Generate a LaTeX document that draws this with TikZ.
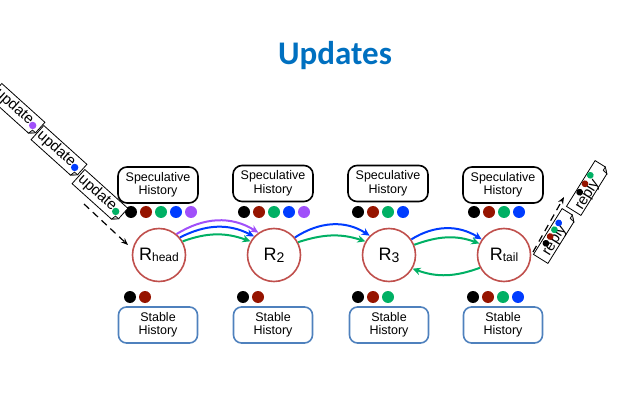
\documentclass[tikz,border=0pt]{standalone}
\usepackage{fontspec}
\setmainfont{Liberation Sans}
\newfontfamily\titlefont{Carlito}
\usetikzlibrary{arrows.meta}

\definecolor{titleblue}{RGB}{0,112,192}
\definecolor{ringred}{RGB}{192,80,77}
\definecolor{stableblue}{RGB}{79,129,189}
\definecolor{opblack}{RGB}{0,0,0}
\definecolor{opred}{RGB}{150,20,0}
\definecolor{opgreen}{RGB}{0,176,100}
\definecolor{opblue}{RGB}{0,60,255}
\definecolor{oppurple}{RGB}{160,80,250}
\definecolor{foldgray}{RGB}{200,200,200}

% replica label: big R with a lowered, smaller suffix
\newcommand\replabel[3]{\fontsize{18}{18}\selectfont R\raisebox{-#3}{\fontsize{#2}{#2}\selectfont #1}}

\begin{document}
\begin{tikzpicture}[x=1pt,y=1pt,
  replica/.style={circle, draw=ringred, line width=1.6pt, fill=white,
    minimum size=53pt, inner sep=0pt},
  spechist/.style={draw=black, line width=1.6pt, rounded corners=9pt,
    minimum width=80pt, minimum height=36pt, align=center, inner sep=0pt,
    font=\fontsize{12.5}{13.5}\selectfont},
  stablehist/.style={draw=stableblue, line width=1.6pt, rounded corners=8pt,
    minimum width=79pt, minimum height=36pt, align=center, inner sep=0pt,
    font=\fontsize{12.5}{13.5}\selectfont},
  flow/.style={line width=2pt, -{Stealth[length=8pt,width=7.5pt]}},
  msgflow/.style={line width=1.2pt, dash pattern=on 7pt off 5pt,
    -{Stealth[length=7pt,width=5.5pt]}},
  msgtext/.style={font=\fontsize{15}{15}\selectfont, inner sep=0pt},
  memo/.style={draw=black, line width=0.8pt, fill=white},
  fold/.style={draw=black, line width=0.6pt, fill=foldgray}
]
\useasboundingbox (0,0) rectangle (634,-403);
\clip (0,0) rectangle (634,-403);

% title
\node[anchor=base, text=titleblue] (title) at (335,-65)
  {\titlefont\bfseries\fontsize{33}{35}\selectfont Updates};

% replicas
\node[replica] (Rhead) at (159,-255) {\replabel{head}{12}{1.2pt}};
\node[replica] (R2)    at (274,-255) {\replabel{2}{14}{2pt}};
\node[replica] (R3)    at (389,-255) {\replabel{3}{14}{2pt}};
\node[replica] (Rtail) at (504,-255) {\replabel{tail}{12}{1.2pt}};

% speculative histories
\node[spechist] (spec1) at (158,-185)   {Speculative\\History};
\node[spechist] (spec2) at (273,-183.5) {Speculative\\History};
\node[spechist] (spec3) at (388,-183.5) {Speculative\\History};
\node[spechist] (spec4) at (503,-185)   {Speculative\\History};

% stable histories
\node[stablehist] (stab1) at (158,-325) {Stable\\History};
\node[stablehist] (stab2) at (273,-325) {Stable\\History};
\node[stablehist] (stab3) at (389,-325) {Stable\\History};
\node[stablehist] (stab4) at (503,-325) {Stable\\History};

% operations held in each speculative history
\foreach \c [count=\i from 0] in {opblack,opred,opgreen,opblue,oppurple}
  \fill[\c] (131+15*\i,-212) circle (6);
\foreach \c [count=\i from 0] in {opblack,opred,opgreen,opblue,oppurple}
  \fill[\c] (244+15*\i,-212) circle (6);
\foreach \c [count=\i from 0] in {opblack,opred,opgreen,opblue}
  \fill[\c] (358+15*\i,-212) circle (6);
\foreach \c [count=\i from 0] in {opblack,opred,opgreen,opblue}
  \fill[\c] (474+15*\i,-212) circle (6);

% operations held in each stable history
\foreach \c [count=\i from 0] in {opblack,opred}
  \fill[\c] (130+15*\i,-297) circle (6);
\foreach \c [count=\i from 0] in {opblack,opred}
  \fill[\c] (243+15*\i,-297) circle (6);
\foreach \c [count=\i from 0] in {opblack,opred,opgreen}
  \fill[\c] (358+15*\i,-297) circle (6);
\foreach \c [count=\i from 0] in {opblack,opred,opgreen,opblue}
  \fill[\c] (473+15*\i,-297) circle (6);

% updates travelling down the chain
\draw[flow, oppurple] (Rhead.50) to[out=32,in=148] (R2.125);
\draw[flow, opblue]   (Rhead.40) to[out=27,in=153] (R2.137);
\draw[flow, opgreen]  (Rhead.30) to[out=20,in=160] (R2.150);
\draw[flow, opblue]   (R2.40) to[out=33,in=147] (R3.135);
\draw[flow, opgreen]  (R2.28) to[out=18,in=162] (R3.150);
\draw[flow, opblue]   (R3.35) to[out=32,in=148] (Rtail.145);
\draw[flow, opgreen]  (R3.22) to[out=20,in=160] (Rtail.155);
% acknowledgement travelling back
\draw[flow, opgreen]  (Rtail.208) to[out=-160,in=-20] (R3.330);

% incoming update messages (memos with a folded corner)
\foreach \cx/\cy/\c/\n in {17/110/oppurple/updA, 59/152/opblue/updB, 100/196/opgreen/updC}{
  \begin{scope}[shift={(\cx,-\cy)}, rotate=-42]
    \draw[memo] (-29,-9.5) -- (24,-9.5) -- (29,-4.5) -- (29,9.5) -- (-29,9.5) -- cycle;
    \draw[fold] (24,-9.5) -- (25,-4.5) -- (29,-4.5) -- cycle;
    \node[msgtext, rotate=-42] (\n) at (-4,0.5) {update};
    \fill[\c] (22,-1) circle (3.7);
  \end{scope}
}
\coordinate (inStart) at (84,-204);
\coordinate (inEnd) at (128,-245);
\draw[msgflow] (inStart) -- (inEnd);

% outgoing reply messages
\begin{scope}[shift={(555,-236)}, rotate=58]
  \draw[memo] (-27,-8.5) -- (22,-8.5) -- (27,-3.5) -- (27,8.5) -- (-27,8.5) -- cycle;
  \draw[fold] (22,-8.5) -- (23,-3.5) -- (27,-3.5) -- cycle;
  \node[msgtext, rotate=58] (replyA) at (-4,-2) {reply};
  \foreach \c [count=\i from 0] in {opblack,opred,opgreen,opblue}
    \fill[\c] (-11+8*\i,3.8) circle (3.4);
\end{scope}
\begin{scope}[shift={(588,-188)}, rotate=58]
  \draw[memo] (-27,-8.5) -- (22,-8.5) -- (27,-3.5) -- (27,8.5) -- (-27,8.5) -- cycle;
  \draw[fold] (22,-8.5) -- (23,-3.5) -- (27,-3.5) -- cycle;
  \node[msgtext, rotate=58] (replyB) at (-6,-3) {reply};
  \foreach \c [count=\i from 0] in {opblack,opred,opgreen}
    \fill[\c] (-8+10*\i,4.8) circle (3.4);
\end{scope}
\coordinate (outStart) at (533,-252);
\coordinate (outEnd) at (564,-197);
\draw[msgflow] (outStart) -- (outEnd);
\end{tikzpicture}
\end{document}
